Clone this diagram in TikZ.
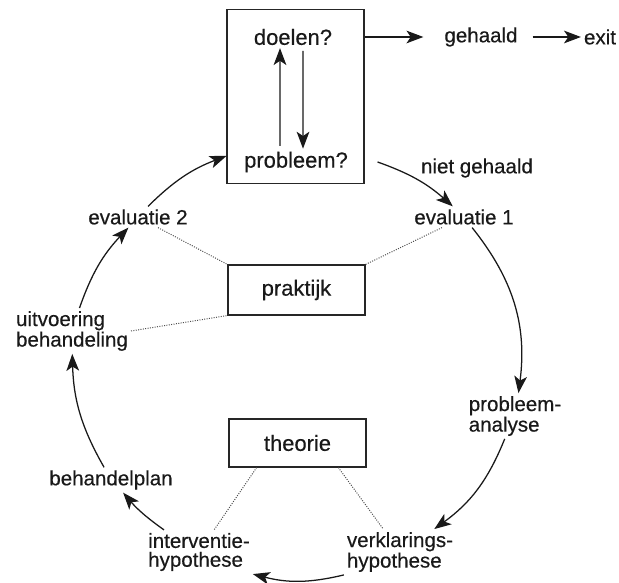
\documentclass[tikz,border=0pt]{standalone}
\usepackage{fontspec}
\setmainfont[FakeBold=0.4]{Liberation Sans}
\usetikzlibrary{arrows.meta}

\begin{document}
\begin{tikzpicture}
        [x=0.025cm, y=0.025cm,
        lbl/.style={inner sep=2pt, align=left, text=black!90, font=\fontsize{14.6}{13.4}\selectfont},
        big/.style={inner sep=2pt, text=black!90, font=\fontsize{15.6}{16}\selectfont},
        box/.style={draw=black!85, line width=0.75pt, minimum width=3.425cm},
        flow/.style={-{Stealth[length=12pt, width=9pt, inset=3pt]}, line width=0.9pt, black!90},
        link/.style={densely dotted, line width=0.7pt, black!70}]

        \useasboundingbox (0,0) rectangle (619,583);

        % goal box at the top
        \node[box, minimum height=4.35cm] (doel) at (295.5,486.5) {};
        \node[big] (doelen) at (293,546) {doelen?};
        \node[big] (probleem) at (296,421) {probleem?};
        \node[lbl] (gehaald) at (481,546) {gehaald};
        \node[lbl] (exit) at (600,546) {exit};
        \node[lbl] (niet) at (477,415) {niet gehaald};

        % the cycle
        \node[lbl] (e1) at (464,366) {evaluatie 1};
        \node[lbl] (pa) at (515,167) {probleem-\\analyse};
        \node[lbl] (vh) at (400,31) {verklarings-\\hypothese};
        \node[lbl] (ih) at (199,31) {interventie-\\hypothese};
        \node[lbl] (bp) at (111,103) {behandelplan};
        \node[lbl] (ub) at (72,252) {uitvoering\\behandeling};
        \node[lbl] (e2) at (138,366) {evaluatie 2};

        % praktijk and theorie
        \node[box, big, minimum height=1.25cm] (prak) at (296.5,293) {praktijk};
        \node[box, big, minimum height=1.2cm] (theo) at (297.5,140) {theorie};

        % arrows inside and out of the goal box
        \draw[flow, shorten <=2pt] ([xshift=-0.4cm]probleem.north) -- ([xshift=-0.325cm]doelen.south);
        \draw[flow, shorten <=2pt] ([xshift=0.25cm]doelen.south) -- ([xshift=0.175cm]probleem.north);
        \draw[flow, shorten >=0.45cm] (doelen -| doel.east) -- (gehaald);
        \draw[flow, shorten <=0.3cm] (gehaald) -- (exit);

        % cycle arrows
        \draw[flow] ([xshift=0.325cm]probleem -| doel.east) to[bend left=11] (e1);
        \draw[flow] (e1) to[bend left=23] (pa);
        \draw[flow] (pa) to[bend left=16] (vh);
        \draw[flow] (vh.south west) to[bend left=14] (ih.south east);
        \draw[flow] (ih) to[bend left=7] (bp);
        \draw[flow] (bp) to[bend left=14] (ub);
        \draw[flow] (ub) to[bend left=12] (e2);
        \draw[flow] (e2) to[bend left=12] ([yshift=0.15cm]probleem -| doel.west);

        % dotted links
        \draw[link] (e2) -- (prak.north west);
        \draw[link] (ub.east) -- (prak.south west);
        \draw[link] (e1) -- (prak.north east);
        \draw[link] (theo.-149) -- (ih);
        \draw[link] (theo.-31) -- (vh);

        \end{tikzpicture}
\end{document}
